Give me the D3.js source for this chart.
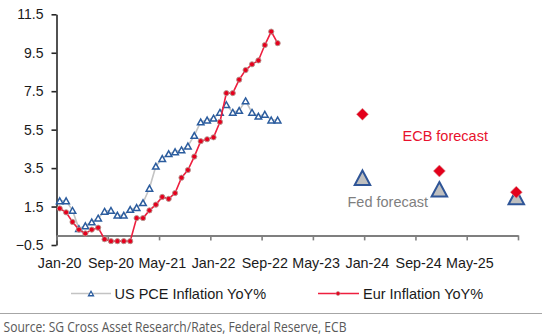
<!DOCTYPE html>
<html>
<head>
<meta charset="utf-8">
<script src="https://cdn.jsdelivr.net/npm/d3@7"></script>
<style>
  html, body { margin: 0; padding: 0; background: #fff; }
  svg { display: block; font-family: "Liberation Sans", Arial, sans-serif; }
</style>
</head>
<body>
<svg id="chart" width="542" height="336"></svg>
<script>
// ---------- data ----------
const firstMonth = "Jan-20";
const lastMonth = "Dec-25";
const xTickLabels = ["Jan-20", "Sep-20", "May-21", "Jan-22", "Sep-22", "May-23", "Jan-24", "Sep-24", "May-25"];
const yTickValues = [-0.5, 1.5, 3.5, 5.5, 7.5, 9.5, 11.5];

const histFirst = "Jan-20";
const usPce = [1.8, 1.8, 1.3, 0.35, 0.5, 0.7, 0.9, 1.25, 1.3, 1.05, 1.05, 1.35,
               1.45, 1.7, 2.45, 3.6, 4.0, 4.25, 4.35, 4.45, 4.65, 5.2, 5.9, 6.0,
               6.1, 6.4, 6.8, 6.4, 6.5, 7.0, 6.4, 6.2, 6.3, 6.0, 6.0];
const eurHicp = [1.4, 1.2, 0.7, 0.3, 0.1, 0.3, 0.4, -0.2, -0.3, -0.3, -0.3, -0.3,
                 0.9, 0.9, 1.3, 1.6, 2.0, 1.9, 2.2, 3.0, 3.4, 4.1, 4.9, 5.0,
                 5.1, 5.9, 7.4, 7.4, 8.1, 8.6, 8.9, 9.1, 9.9, 10.6, 10.0];

const forecastMonths = ["Dec-23", "Dec-24", "Dec-25"];
const fedForecast = [3.0, 2.4, 2.0];
const ecbForecast = [6.3, 3.35, 2.25];

const seriesNames = ["US PCE Inflation YoY%", "Eur Inflation YoY%"];
const sourceText = "Source: SG Cross Asset Research/Rates, Federal Reserve, ECB";

// ---------- helpers ----------
const fmt = d3.timeFormat("%b-%y");
const parse = d3.timeParse("%b-%y");
const months = d3.timeMonth.range(parse(firstMonth), d3.timeMonth.offset(parse(lastMonth), 1)).map(fmt);
const histMonths = d3.timeMonth.range(parse(histFirst), d3.timeMonth.offset(parse(histFirst), usPce.length)).map(fmt);

const svg = d3.select("#chart");

const x = d3.scaleBand().domain(months).range([56.5, 518]).paddingInner(0).paddingOuter(0);
const xc = m => x(m) + x.bandwidth() / 2;
const xIdx = d3.scaleLinear().domain([0, months.length]).range(x.range());
const y = d3.scaleLinear().domain([-0.5, 11.5]).range([245, 14.3]);

// ---------- axes ----------
// y axis
const yAxis = svg.append("g")
  .attr("transform", "translate(56.5,0)")
  .call(d3.axisLeft(y).tickValues(yTickValues).tickFormat(d3.format(".1f")).tickSize(5).tickSizeOuter(0).tickPadding(8));
yAxis.select(".domain").attr("stroke", "#262626").attr("stroke-width", 1.6);
yAxis.selectAll(".tick line").attr("stroke", "#262626").attr("stroke-width", 1.6);
yAxis.selectAll(".tick text").attr("font-size", "14px").attr("fill", "#1a1a1a")
  .attr("font-family", "'Liberation Sans', Arial, sans-serif");

// x axis line at zero with ticks every 8 months
const xAxis = svg.append("g")
  .attr("transform", `translate(0,${y(0)})`)
  .call(d3.axisBottom(xIdx).tickValues(d3.range(0, months.length + 1, 8)).tickFormat("").tickSize(5).tickSizeOuter(0));
xAxis.select(".domain").attr("stroke", "#7f7f7f").attr("stroke-width", 2);
xAxis.selectAll(".tick line").attr("stroke", "#7f7f7f").attr("stroke-width", 1.6);

// x labels (at category centres, below the plot)
const xLab = svg.append("g")
  .attr("transform", "translate(0,258)")
  .call(d3.axisBottom(x).tickValues(xTickLabels).tickSize(0).tickPadding(0));
xLab.select(".domain").remove();
xLab.selectAll(".tick text").attr("font-size", "14.3px").attr("fill", "#1a1a1a").attr("dy", "0.71em")
  .attr("font-family", "'Liberation Sans', Arial, sans-serif");

// ---------- series ----------
const usData = histMonths.map((m, i) => ({ m, v: usPce[i] }));
const eurData = histMonths.map((m, i) => ({ m, v: eurHicp[i] }));
const line = d3.line().x(d => xc(d.m)).y(d => y(d.v));

const triPath = (w, h) => `M0,${-h / 2}L${w / 2},${h / 2}L${-w / 2},${h / 2}Z`;
const diaPath = (w, h) => `M0,${-h / 2}L${w / 2},0L0,${h / 2}L${-w / 2},0Z`;

svg.append("path").datum(usData).attr("d", line)
  .attr("fill", "none").attr("stroke", "#c3c3c3").attr("stroke-width", 1.6);
svg.append("g").selectAll("path").data(usData).join("path")
  .attr("transform", d => `translate(${xc(d.m)},${y(d.v)})`)
  .attr("d", triPath(6.5, 5.8))
  .attr("fill", "#fff").attr("stroke", "#2b5c9e").attr("stroke-width", 1.5).attr("stroke-linejoin", "miter");

svg.append("path").datum(eurData).attr("d", line)
  .attr("fill", "none").attr("stroke", "#ee1f3f").attr("stroke-width", 1.6);
svg.append("g").selectAll("circle").data(eurData).join("circle")
  .attr("cx", d => xc(d.m)).attr("cy", d => y(d.v)).attr("r", 2.6)
  .attr("fill", "#e6001e").attr("stroke", "#b39a92").attr("stroke-width", 0.9);

// forecasts
const fedData = forecastMonths.map((m, i) => ({ m, v: fedForecast[i] }));
const ecbData = forecastMonths.map((m, i) => ({ m, v: ecbForecast[i] }));
svg.append("g").selectAll("path").data(fedData).join("path")
  .attr("transform", d => `translate(${xc(d.m) + 1.5},${y(d.v)})`)
  .attr("d", triPath(15.5, 14.5))
  .attr("fill", "#bfbfbf").attr("stroke", "#2f5597").attr("stroke-width", 2).attr("stroke-linejoin", "miter");
svg.append("g").selectAll("path").data(ecbData).join("path")
  .attr("transform", d => `translate(${xc(d.m) + 1.5},${y(d.v)})`)
  .attr("d", diaPath(12, 12))
  .attr("fill", "#e3001b").attr("stroke", "#d9a0a0").attr("stroke-width", 0.6);

// annotations
svg.append("text").attr("x", 402.5).attr("y", 140.5).attr("font-size", "14.5px")
  .attr("fill", "#e8112d").text("ECB forecast");
svg.append("text").attr("x", 347.5).attr("y", 207).attr("font-size", "14.5px")
  .attr("fill", "#7f7f7f").text("Fed forecast");

// ---------- legend ----------
const lg = svg.append("g");
lg.append("line").attr("x1", 71).attr("x2", 111).attr("y1", 293.5).attr("y2", 293.5)
  .attr("stroke", "#c3c3c3").attr("stroke-width", 1.6);
lg.append("path").attr("transform", "translate(91,293.5)").attr("d", triPath(5, 4.5))
  .attr("fill", "#fff").attr("stroke", "#2b5c9e").attr("stroke-width", 1.3);
lg.append("text").attr("x", 114.5).attr("y", 298.5).attr("font-size", "14.5px").attr("fill", "#1a1a1a").text(seriesNames[0]);
lg.append("line").attr("x1", 318).attr("x2", 359).attr("y1", 293.5).attr("y2", 293.5)
  .attr("stroke", "#ee1f3f").attr("stroke-width", 1.6);
lg.append("circle").attr("cx", 338).attr("cy", 293.5).attr("r", 2)
  .attr("fill", "#e6001e").attr("stroke", "#b39a92").attr("stroke-width", 0.6);
lg.append("text").attr("x", 363).attr("y", 298.5).attr("font-size", "14.5px").attr("fill", "#1a1a1a").text(seriesNames[1]);

// separator & source
svg.append("line").attr("x1", 0).attr("x2", 542).attr("y1", 313.5).attr("y2", 313.5)
  .attr("stroke", "#a6a6a6").attr("stroke-width", 1);
svg.append("text").attr("x", 3.5).attr("y", 332).attr("font-size", "14px")
  .attr("font-family", "'Liberation Sans Narrow', 'Open Sans', Arial, sans-serif")
  .attr("fill", "#595959").attr("textLength", 343).attr("lengthAdjust", "spacingAndGlyphs")
  .text(sourceText);
</script>
</body>
</html>
